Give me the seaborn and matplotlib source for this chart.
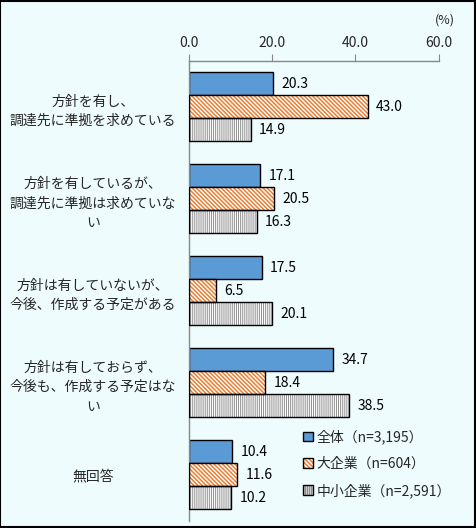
import numpy as np
import pandas as pd
import seaborn as sns
import matplotlib.pyplot as plt
from matplotlib.patches import Rectangle
from matplotlib.legend_handler import HandlerTuple
from matplotlib.ticker import FormatStrFormatter

# データ
categories = [
    "方針を有し、\n調達先に準拠を求めている",
    "方針を有しているが、\n調達先に準拠は求めていな\nい",
    "方針は有していないが、\n今後、作成する予定がある",
    "方針は有しておらず、\n今後も、作成する予定はな\nい",
    "無回答",
]
series_names = ["全体（n=3,195）", "大企業（n=604）", "中小企業（n=2,591）"]
zentai = [20.3, 17.1, 17.5, 34.7, 10.4]
daikigyo = [43.0, 20.5, 6.5, 18.4, 11.6]
chusho = [14.9, 16.3, 20.1, 38.5, 10.2]
x_ticks = [0, 20, 40, 60]

sns.set_style("white")
plt.rcParams['font.family'] = ['Noto Sans CJK JP', 'DejaVu Sans']
plt.rcParams['hatch.linewidth'] = 1.1

df = pd.DataFrame({
    "cat": categories * 3,
    "series": [series_names[0]] * 5 + [series_names[1]] * 5 + [series_names[2]] * 5,
    "value": zentai + daikigyo + chusho,
})

BG = '#EEFCFE'
BLUE = '#5B9BD5'
ORANGE = '#ED7D31'
GRAY = '#8E8E8E'
H_OR = '\\' * 8
H_GR = '|' * 8

def set_hlw(p, lw):
    # 3.10 なら patch ごとに線幅を変えられる
    if hasattr(p, 'set_hatch_linewidth'):
        p.set_hatch_linewidth(lw)

fig = plt.figure(figsize=(4.76, 5.28), dpi=100)
fig.patch.set_facecolor(BG)
ax = fig.add_axes([0.3964, 0.0133, 0.5252, 0.8712])
ax.set_facecolor(BG)

sns.barplot(data=df, y="cat", x="value", hue="series", orient="h",
            order=categories, hue_order=series_names, width=0.75,
            palette=[BLUE, 'white', 'white'], edgecolor='black',
            linewidth=1.0, saturation=1, errorbar=None, legend=False, ax=ax)

# 模様
styles = [(None, None, 0), (H_OR, ORANGE, 1.1), (H_GR, GRAY, 0.7)]
for cont, (hatch, hcol, hlw) in zip(ax.containers, styles):
    for p in cont.patches:
        if hatch:
            p.set_hatch(hatch)
            p.set_edgecolor(hcol)
            p.set_linewidth(0)
            set_hlw(p, hlw)
            ax.add_patch(Rectangle(p.get_xy(), p.get_width(), p.get_height(),
                                   fill=False, edgecolor='black', linewidth=1.0, zorder=3))
    ax.bar_label(cont, fmt='%.1f', padding=6, fontsize=10, color='black')

# 軸
ax.set_xlim(0, 60)
ax.set_ylim(4.5, -0.5)
ax.xaxis.tick_top()
ax.set_xticks(x_ticks)
ax.xaxis.set_major_formatter(FormatStrFormatter('%.1f'))
ax.tick_params(axis='x', direction='out', length=5, color='#888888', labelsize=10, pad=3)
ax.set_yticks(range(len(categories)))
ax.set_yticklabels(categories, ha='center', fontsize=10, linespacing=1.5)
ax.set_yticks(np.arange(-0.5, len(categories), 1), minor=True)
ax.tick_params(axis='y', which='major', length=0, pad=69)
ax.tick_params(axis='y', which='minor', direction='out', length=5, color='#888888')
ax.set_xlabel('')
ax.set_ylabel('')
for s in ['right', 'bottom']:
    ax.spines[s].set_visible(False)
for s in ['top', 'left']:
    ax.spines[s].set_color('#888888')
    ax.spines[s].set_linewidth(1.0)

fig.text(0.935, 0.962, '(%)', fontsize=9, ha='center', va='center')

# 凡例
def edge():
    return Rectangle((0, 0), 1, 1, fill=False, edgecolor='black', linewidth=1.0)

h_or = Rectangle((0, 0), 1, 1, facecolor='white', edgecolor=ORANGE, hatch=H_OR, linewidth=0)
h_gr = Rectangle((0, 0), 1, 1, facecolor='white', edgecolor=GRAY, hatch=H_GR, linewidth=0)
set_hlw(h_or, 1.1)
set_hlw(h_gr, 0.7)
handles = [
    Rectangle((0, 0), 1, 1, facecolor=BLUE, edgecolor='black', linewidth=1.0),
    (h_or, edge()),
    (h_gr, edge()),
]
leg = fig.legend(handles, series_names, loc='upper left',
                 bbox_to_anchor=(0.625, 0.197), frameon=False, fontsize=10,
                 handlelength=0.7, handleheight=0.7, handletextpad=0.25,
                 labelspacing=0.9, borderaxespad=0,
                 handler_map={tuple: HandlerTuple(ndivide=1, pad=0)})

# 外枠
fig.patches.append(Rectangle((0.001, 0.001), 0.997, 0.997, transform=fig.transFigure,
                             fill=False, edgecolor='black', linewidth=1.5))

fig.savefig('out.png', dpi=100, facecolor=BG)
